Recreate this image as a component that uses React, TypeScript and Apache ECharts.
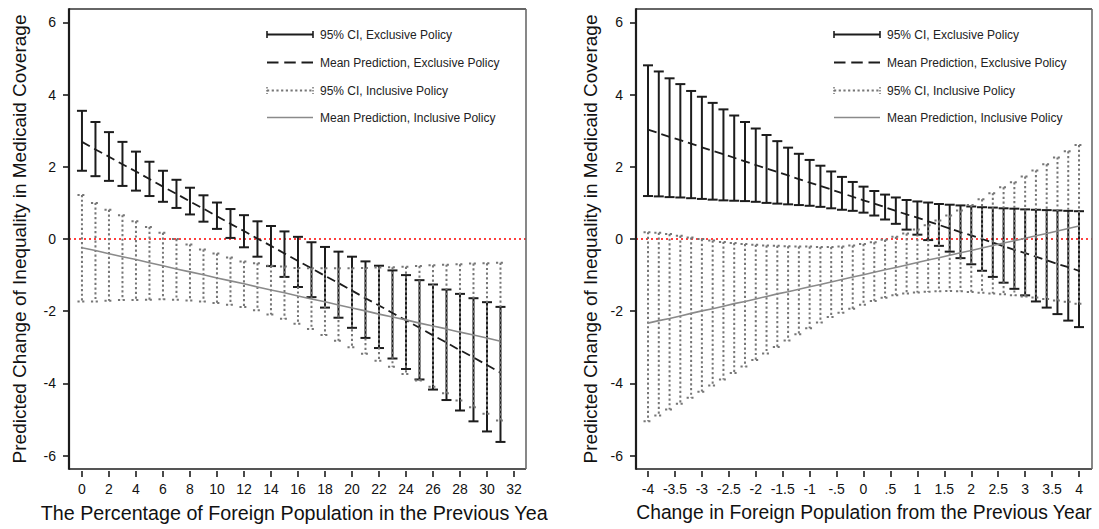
import React, { useEffect, useRef } from "react";
import * as echarts from "echarts";

// ---------------- data ----------------
const leftX = [0,1,2,3,4,5,6,7,8,9,10,11,12,13,14,15,16,17,18,19,20,21,22,23,24,25,26,27,28,29,30,31];
const leftExclUpper = [3.55,3.24,2.96,2.69,2.42,2.14,1.89,1.64,1.42,1.21,1.01,0.83,0.66,0.49,0.36,0.21,0.06,-0.09,-0.22,-0.35,-0.49,-0.62,-0.74,-0.87,-1.0,-1.14,-1.26,-1.4,-1.52,-1.64,-1.75,-1.88];
const leftExclLower = [1.89,1.74,1.61,1.47,1.34,1.19,1.03,0.86,0.68,0.48,0.28,0.03,-0.23,-0.49,-0.75,-1.05,-1.33,-1.61,-1.9,-2.18,-2.46,-2.74,-3.02,-3.31,-3.6,-3.89,-4.17,-4.46,-4.75,-5.05,-5.33,-5.62];
const leftExclMean = [2.69,2.48,2.28,2.07,1.87,1.66,1.45,1.25,1.04,0.84,0.63,0.42,0.22,0.01,-0.19,-0.40,-0.61,-0.81,-1.02,-1.22,-1.43,-1.64,-1.84,-2.05,-2.25,-2.46,-2.67,-2.87,-3.08,-3.28,-3.49,-3.70];
const leftInclUpper = [1.22,1.0,0.81,0.66,0.49,0.33,0.17,0.0,-0.15,-0.29,-0.4,-0.51,-0.62,-0.67,-0.74,-0.76,-0.8,-0.81,-0.81,-0.81,-0.81,-0.8,-0.79,-0.78,-0.77,-0.75,-0.73,-0.71,-0.7,-0.68,-0.67,-0.66];
const leftInclLower = [-1.73,-1.73,-1.71,-1.69,-1.69,-1.68,-1.67,-1.68,-1.7,-1.73,-1.77,-1.82,-1.88,-1.97,-2.09,-2.21,-2.35,-2.49,-2.66,-2.82,-3.0,-3.18,-3.37,-3.54,-3.74,-3.92,-4.09,-4.27,-4.47,-4.66,-4.84,-5.03];
const leftInclMean = [-0.24,-0.32,-0.41,-0.49,-0.57,-0.66,-0.74,-0.83,-0.91,-0.99,-1.08,-1.16,-1.24,-1.33,-1.41,-1.49,-1.58,-1.66,-1.74,-1.83,-1.91,-1.99,-2.08,-2.16,-2.24,-2.33,-2.41,-2.49,-2.58,-2.66,-2.74,-2.83];

const rightX = [-4,-3.8,-3.6,-3.4,-3.2,-3,-2.8,-2.6,-2.4,-2.2,-2,-1.8,-1.6,-1.4,-1.2,-1,-0.8,-0.6,-0.4,-0.2,0,0.2,0.4,0.6,0.8,1,1.2,1.4,1.6,1.8,2,2.2,2.4,2.6,2.8,3,3.2,3.4,3.6,3.8,4];
const rightExclUpper = [4.81,4.64,4.45,4.29,4.1,3.94,3.77,3.59,3.42,3.24,3.06,2.88,2.71,2.53,2.36,2.19,2.03,1.87,1.72,1.58,1.45,1.33,1.23,1.15,1.08,1.04,1.01,0.97,0.95,0.93,0.9,0.88,0.87,0.85,0.84,0.82,0.81,0.8,0.79,0.78,0.77];
const rightExclLower = [1.19,1.18,1.16,1.15,1.13,1.11,1.09,1.07,1.06,1.05,1.03,1.0,0.98,0.96,0.94,0.92,0.89,0.85,0.81,0.78,0.73,0.65,0.54,0.42,0.26,0.12,-0.03,-0.19,-0.35,-0.53,-0.7,-0.88,-1.05,-1.21,-1.38,-1.56,-1.73,-1.9,-2.08,-2.26,-2.44];
const rightExclMean = [3.03,2.93,2.83,2.74,2.64,2.54,2.44,2.35,2.25,2.15,2.05,1.95,1.86,1.76,1.66,1.56,1.47,1.37,1.27,1.17,1.07,0.98,0.88,0.78,0.68,0.59,0.49,0.39,0.29,0.19,0.1,0.0,-0.1,-0.2,-0.3,-0.39,-0.49,-0.59,-0.69,-0.78,-0.88];
const rightInclUpper = [0.19,0.17,0.14,0.09,0.04,0.0,-0.04,-0.08,-0.11,-0.14,-0.16,-0.18,-0.19,-0.2,-0.21,-0.21,-0.22,-0.22,-0.21,-0.18,-0.14,-0.09,-0.02,0.06,0.15,0.26,0.38,0.51,0.65,0.79,0.94,1.1,1.27,1.43,1.57,1.73,1.9,2.07,2.26,2.43,2.6];
const rightInclLower = [-5.05,-4.89,-4.72,-4.56,-4.4,-4.23,-4.06,-3.89,-3.71,-3.53,-3.35,-3.17,-2.99,-2.81,-2.64,-2.47,-2.31,-2.16,-2.04,-1.93,-1.82,-1.72,-1.63,-1.56,-1.51,-1.48,-1.46,-1.45,-1.44,-1.45,-1.47,-1.49,-1.51,-1.53,-1.56,-1.59,-1.62,-1.66,-1.7,-1.74,-1.79];
const rightInclMean = [-2.33,-2.26,-2.2,-2.13,-2.06,-1.99,-1.93,-1.86,-1.79,-1.73,-1.66,-1.59,-1.52,-1.46,-1.39,-1.32,-1.26,-1.19,-1.12,-1.05,-0.99,-0.92,-0.85,-0.79,-0.72,-0.65,-0.58,-0.52,-0.45,-0.38,-0.32,-0.25,-0.18,-0.11,-0.05,0.02,0.09,0.15,0.22,0.29,0.36];

const leftXTicks = [0,2,4,6,8,10,12,14,16,18,20,22,24,26,28,30,32];
const rightXTicks = [-4,-3.5,-3,-2.5,-2,-1.5,-1,-0.5,0,0.5,1,1.5,2,2.5,3,3.5,4];
const yTicks = [-6,-4,-2,0,2,4,6];

const legendLabels = [
  "95% CI, Exclusive Policy",
  "Mean Prediction, Exclusive Policy",
  "95% CI, Inclusive Policy",
  "Mean Prediction, Inclusive Policy",
];
const yTitle = "Predicted Change of Inequality in Medicaid Coverage";
const leftXTitle = "The Percentage of Foreign Population in the Previous Year";
const rightXTitle = "Change in Foreign Population from the Previous Year";

// ---------------- styles ----------------
const FONT = "'Liberation Sans', Arial, Helvetica, sans-serif";
const BLACK = "#1c1c1c";
const GRAY = "#767676";
const GRAY_LINE = "#8a8a8a";
const GRID_TOP = 9;
const GRID_H = 460;
const Y_MIN = -6.37;
const Y_MAX = 6.37;

function errorBar(color: string, width: number, dash: any, capHalf: number) {
  return (params: any, api: any) => {
    const x = api.value(0);
    const lo = api.value(1);
    const hi = api.value(2);
    const t = api.coord([x, hi]);
    const b = api.coord([x, lo]);
    const style = { stroke: color, lineWidth: width, lineDash: dash, fill: null };
    return {
      type: "group",
      children: [
        { type: "line", shape: { x1: t[0], y1: t[1], x2: b[0], y2: b[1] }, style },
        { type: "line", shape: { x1: t[0] - capHalf, y1: t[1], x2: t[0] + capHalf, y2: t[1] }, style },
        { type: "line", shape: { x1: b[0] - capHalf, y1: b[1], x2: b[0] + capHalf, y2: b[1] }, style },
      ],
    };
  };
}

const ln = (a: number, b: number, c: number, d: number, style: any, z = 100) => ({
  type: "line",
  shape: { x1: a, y1: b, x2: c, y2: d },
  style,
  z,
  silent: true,
});

function legendGraphics(gridLeft: number) {
  const rows = [34.5, 62.5, 90.5, 117.5];
  const x0 = gridLeft + 198;
  const x1 = gridLeft + 244;
  const tx = gridLeft + 251;
  const els: any[] = [];
  const sBlack = { stroke: BLACK, lineWidth: 2 };
  const sDash = { stroke: BLACK, lineWidth: 2, lineDash: [11.5, 5.75] };
  const sDot = { stroke: GRAY, lineWidth: 1.8, lineDash: [2.2, 2.5] };
  const sGray = { stroke: GRAY_LINE, lineWidth: 1.6 };
  els.push(ln(x0, rows[0], x1, rows[0], sBlack));
  els.push(ln(x0, rows[0] - 3.5, x0, rows[0] + 3.5, { stroke: BLACK, lineWidth: 1.6 }));
  els.push(ln(x1, rows[0] - 3.5, x1, rows[0] + 3.5, { stroke: BLACK, lineWidth: 1.6 }));
  els.push(ln(x0, rows[1], x1, rows[1], sDash));
  els.push(ln(x0, rows[2], x1, rows[2], sDot));
  els.push(ln(x0, rows[2] - 3.5, x0, rows[2] + 3.5, { stroke: GRAY, lineWidth: 1.5, lineDash: [1.5, 1.5] }));
  els.push(ln(x1, rows[2] - 3.5, x1, rows[2] + 3.5, { stroke: GRAY, lineWidth: 1.5, lineDash: [1.5, 1.5] }));
  els.push(ln(x0, rows[3], x1, rows[3], sGray));
  legendLabels.forEach((t, i) => {
    els.push({
      type: "text",
      x: tx,
      y: rows[i],
      z: 100,
      silent: true,
      style: { text: t, fill: "#222", font: `12px ${FONT}`, verticalAlign: "middle", align: "left" },
    });
  });
  return els;
}

function frameGraphics(gridLeft: number, gridW: number) {
  const l = gridLeft;
  const r = gridLeft + gridW;
  const t = GRID_TOP;
  const b = GRID_TOP + GRID_H;
  const zeroY = t + (GRID_H * Y_MAX) / (Y_MAX - Y_MIN);
  return [
    ln(l, zeroY, r, zeroY, { stroke: "#ff0000", lineWidth: 1.6, lineDash: [2, 3] }, 1),
    ln(l, t, r, t, { stroke: "#333", lineWidth: 1.5 }, 60),
    ln(l, b, r, b, { stroke: BLACK, lineWidth: 1.6 }, 60),
    ln(r, t, r, b, { stroke: "#6a6a6a", lineWidth: 1.6 }, 60),
    ln(l, t - 0.75, l, b + 0.8, { stroke: BLACK, lineWidth: 2.2 }, 61),
  ];
}

function buildOption(cfg: {
  gridLeft: number;
  gridW: number;
  xMin: number;
  xMax: number;
  xTicks: number[];
  xTitle: string;
  xTitleSize: number;
  yNameGap: number;
  xs: number[];
  eu: number[];
  el: number[];
  em: number[];
  iu: number[];
  il: number[];
  im: number[];
  fmt: (v: number) => string;
}) {
  return {
    animation: false,
    backgroundColor: "#fff",
    textStyle: { fontFamily: FONT },
    grid: {
      left: cfg.gridLeft,
      top: GRID_TOP,
      width: cfg.gridW,
      height: GRID_H,
      show: false,
      containLabel: false,
      outerBoundsMode: "none",
    },
    xAxis: {
      type: "value",
      min: cfg.xMin,
      max: cfg.xMax,
      offset: 2,
      name: cfg.xTitle,
      nameLocation: "middle",
      nameGap: 32,
      nameTextStyle: {
        fontSize: cfg.xTitleSize,
        color: "#111",
        fontFamily: FONT,
      },
      axisLine: { show: false, onZero: false },
      axisTick: {
        show: true,
        length: 6,
        customValues: cfg.xTicks,
        lineStyle: { color: BLACK, width: 1.6 },
      },
      axisLabel: {
        customValues: cfg.xTicks,
        margin: 11,
        fontSize: 14,
        color: "#111",
        fontFamily: FONT,
        formatter: cfg.fmt,
      },
      splitLine: { show: false },
    },
    yAxis: {
      type: "value",
      min: Y_MIN,
      max: Y_MAX,
      name: yTitle,
      nameLocation: "middle",
      nameGap: cfg.yNameGap,
      nameTextStyle: { fontSize: 19, color: "#111", fontFamily: FONT },
      axisLine: { show: false, onZero: false },
      axisTick: {
        show: true,
        length: 6,
        customValues: yTicks,
        lineStyle: { color: BLACK, width: 1.6 },
      },
      axisLabel: {
        customValues: yTicks,
        margin: 13,
        fontSize: 14,
        color: "#111",
        fontFamily: FONT,
      },
      splitLine: { show: false },
    },
    graphic: [...frameGraphics(cfg.gridLeft, cfg.gridW), ...legendGraphics(cfg.gridLeft)],
    series: [
      {
        type: "custom",
        renderItem: errorBar(BLACK, 2, null, 5),
        data: cfg.xs.map((x, i) => [x, cfg.el[i], cfg.eu[i]]),
        encode: { x: 0, y: [1, 2] },
        silent: true,
        z: 3,
      },
      {
        type: "line",
        data: cfg.xs.map((x, i) => [x, cfg.em[i]]),
        showSymbol: false,
        symbol: "none",
        lineStyle: { color: BLACK, width: 1.8, type: [9, 5] },
        silent: true,
        z: 4,
      },
      {
        type: "custom",
        renderItem: errorBar(GRAY, 2, [2.2, 2.5], 4.5),
        data: cfg.xs.map((x, i) => [x, cfg.il[i], cfg.iu[i]]),
        encode: { x: 0, y: [1, 2] },
        silent: true,
        z: 5,
      },
      {
        type: "line",
        data: cfg.xs.map((x, i) => [x, cfg.im[i]]),
        showSymbol: false,
        symbol: "none",
        lineStyle: { color: GRAY_LINE, width: 1.6 },
        silent: true,
        z: 6,
      },
    ],
  };
}

const stataFmt = (v: number) => {
  const s = String(v);
  return s.replace(/^(-?)0\./, "$1.");
};

function Panel(props: { left: number; width: number; option: any }) {
  const ref = useRef<HTMLDivElement>(null);
  useEffect(() => {
    if (!ref.current) return;
    const chart = echarts.init(ref.current, undefined, { renderer: "svg" });
    chart.setOption(props.option);
    return () => chart.dispose();
  }, []);
  return (
    <div
      ref={ref}
      style={{
        position: "absolute",
        left: props.left,
        top: 0,
        width: props.width,
        height: 529,
        overflow: "hidden",
      }}
    />
  );
}

export default function App() {
  const leftOpt = buildOption({
    gridLeft: 69,
    gridW: 457,
    xMin: -0.96,
    xMax: 32.89,
    xTicks: leftXTicks,
    xTitle: leftXTitle,
    xTitleSize: 19.7,
    yNameGap: 40,
    xs: leftX,
    eu: leftExclUpper,
    el: leftExclLower,
    em: leftExclMean,
    iu: leftInclUpper,
    il: leftInclLower,
    im: leftInclMean,
    fmt: (v: number) => String(v),
  });
  const rightOpt = buildOption({
    gridLeft: 88,
    gridW: 456,
    xMin: -4.223,
    xMax: 4.241,
    xTicks: rightXTicks,
    xTitle: rightXTitle,
    xTitleSize: 19.3,
    yNameGap: 36,
    xs: rightX,
    eu: rightExclUpper,
    el: rightExclLower,
    em: rightExclMean,
    iu: rightInclUpper,
    il: rightInclLower,
    im: rightInclMean,
    fmt: stataFmt,
  });
  return (
    <div
      style={{
        position: "fixed",
        left: 0,
        top: 0,
        width: 1099,
        height: 529,
        background: "#fff",
        overflow: "hidden",
      }}
    >
      <Panel left={0} width={548} option={leftOpt} />
      <Panel left={548} width={551} option={rightOpt} />
    </div>
  );
}
